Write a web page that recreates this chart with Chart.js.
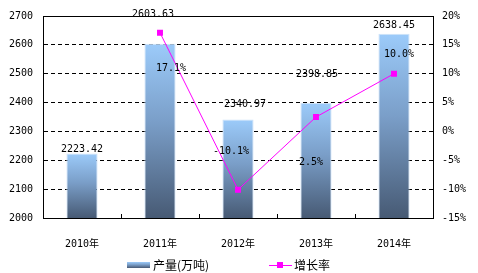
<!DOCTYPE html>
<html>
<head>
<meta charset="utf-8">
<script src="https://cdn.jsdelivr.net/npm/chart.js@4.4.1/dist/chart.umd.min.js"></script>
<style>
  html, body { margin: 0; padding: 0; background: #fff; }
  #wrap { width: 478px; height: 273px; position: relative; }
</style>
</head>
<body>
<div id="wrap"><canvas id="chart"></canvas></div>
<script>
// data
const years = ['2010年', '2011年', '2012年', '2013年', '2014年'];
const output = [2223.42, 2603.63, 2340.97, 2398.85, 2638.45];
const growth = [null, 17.1, -10.1, 2.5, 10.0];
const outputTicks = [2000, 2700, 100];   // min, max, step
const growthTicks = [-15, 20, 5];

// label nudges (px) so labels sit like the original
const barLabelDx = [0, -7, 7, 1, 0];
const barLabelDy = [-4, -29, -15, -28, -8];
const lineLabelDx = [0, 11, -7, -5, 5];
const lineLabelDy = [0, 36, -38, 45, -19];

const monoFont = '"DejaVu Sans Mono", "Noto Sans CJK SC", monospace';
const cjkFont = '"Noto Sans CJK SC", sans-serif';

function barGradient(ctx, top, bottom) {
  const g = ctx.createLinearGradient(0, top, 0, bottom);
  g.addColorStop(0, '#9ccbfa');
  g.addColorStop(0.45, '#7a9ec8');
  g.addColorStop(1, '#475a74');
  return g;
}

const extras = {
  id: 'extras',
  afterDatasetsDraw(chart) {
    const ctx = chart.ctx;
    const area = chart.chartArea;
    const x = chart.scales.x;
    ctx.save();
    // top border of plot area
    ctx.strokeStyle = '#000';
    ctx.lineWidth = 1;
    ctx.beginPath();
    ctx.moveTo(area.left, Math.round(area.top) + 0.5);
    ctx.lineTo(area.right, Math.round(area.top) + 0.5);
    ctx.stroke();
    // small inner ticks between categories
    for (let i = 1; i < years.length; i++) {
      const px = Math.round((x.getPixelForTick(i - 1) + x.getPixelForTick(i)) / 2) + 0.5;
      ctx.beginPath();
      ctx.moveTo(px, area.bottom);
      ctx.lineTo(px, area.bottom - 4);
      ctx.stroke();
    }
    // value labels
    ctx.fillStyle = '#000';
    ctx.font = '10px ' + monoFont;
    ctx.textAlign = 'center';
    ctx.textBaseline = 'middle';
    chart.getDatasetMeta(0).data.forEach((el, i) => {
      ctx.fillText(output[i].toFixed(2), el.x + barLabelDx[i], el.y + barLabelDy[i]);
    });
    chart.getDatasetMeta(1).data.forEach((el, i) => {
      if (growth[i] === null) return;
      ctx.fillText(growth[i].toFixed(1) + '%', el.x + lineLabelDx[i], el.y + lineLabelDy[i]);
    });
    // legend
    const ly = 265;
    ctx.fillStyle = barGradient(ctx, ly - 3, ly + 3);
    ctx.fillRect(127, ly - 3, 23, 6);
    ctx.strokeStyle = '#ff00ff';
    ctx.beginPath();
    ctx.moveTo(269, ly + 0.5);
    ctx.lineTo(292, ly + 0.5);
    ctx.stroke();
    ctx.fillStyle = '#ff00ff';
    ctx.fillRect(277, ly - 3, 6, 6);
    ctx.fillStyle = '#000';
    ctx.font = '12px ' + cjkFont;
    ctx.textAlign = 'left';
    ctx.fillText(chart.data.datasets[0].label, 153, ly);
    ctx.fillText(chart.data.datasets[1].label, 294, ly);
    ctx.restore();
  }
};

new Chart(document.getElementById('chart'), {
  data: {
    labels: years,
    datasets: [
      {
        type: 'bar',
        label: '产量(万吨)',
        data: output,
        yAxisID: 'y',
        order: 2,
        barPercentage: 0.4,
        categoryPercentage: 1,
        borderWidth: { left: 1, right: 1, top: 1, bottom: 0 },
        borderColor: '#cfe3f8',
        borderSkipped: 'bottom',
        backgroundColor: (c) => {
          const chart = c.chart;
          if (!chart.chartArea || c.parsed === undefined) return '#7a9ec8';
          const top = chart.scales.y.getPixelForValue(c.parsed.y);
          return barGradient(chart.ctx, top, chart.chartArea.bottom);
        }
      },
      {
        type: 'line',
        label: '增长率',
        data: growth,
        yAxisID: 'y1',
        order: 1,
        borderColor: '#ff00ff',
        backgroundColor: '#ff00ff',
        borderWidth: 1,
        pointStyle: 'rect',
        pointRadius: 4.2,
        pointBorderWidth: 0,
        tension: 0
      }
    ]
  },
  options: {
    responsive: true,
    maintainAspectRatio: false,
    animation: false,
    devicePixelRatio: 1,
    layout: { padding: { top: 14, left: 0, right: 0, bottom: 0 } },
    plugins: { legend: { display: false }, tooltip: { enabled: false } },
    scales: {
      x: {
        grid: { display: false },
        border: { color: '#000', width: 1 },
        ticks: { color: '#000', padding: 12, font: { family: monoFont, size: 10 } },
        afterFit: (s) => { s.height = 55; }
      },
      y: {
        position: 'left',
        min: outputTicks[0],
        max: outputTicks[1],
        ticks: { stepSize: outputTicks[2], color: '#000', padding: 10, font: { family: monoFont, size: 10 },
          callback: (v) => String(v) },
        grid: {
          drawTicks: false,
          color: (c) => (c.tick && (c.tick.value === outputTicks[0] || c.tick.value === outputTicks[1])) ? 'rgba(0,0,0,0)' : '#000',
          lineWidth: 1
        },
        border: { color: '#000', width: 1, dash: [4, 3] },
        afterFit: (s) => { s.width = 43; }
      },
      y1: {
        position: 'right',
        min: growthTicks[0],
        max: growthTicks[1],
        ticks: { stepSize: growthTicks[2], color: '#000', padding: 9, font: { family: monoFont, size: 10 },
          callback: (v) => v + '%' },
        grid: { display: false, drawTicks: false },
        border: { color: '#000', width: 1 },
        afterFit: (s) => { s.width = 45; }
      }
    }
  },
  plugins: [extras]
});
</script>
</body>
</html>
